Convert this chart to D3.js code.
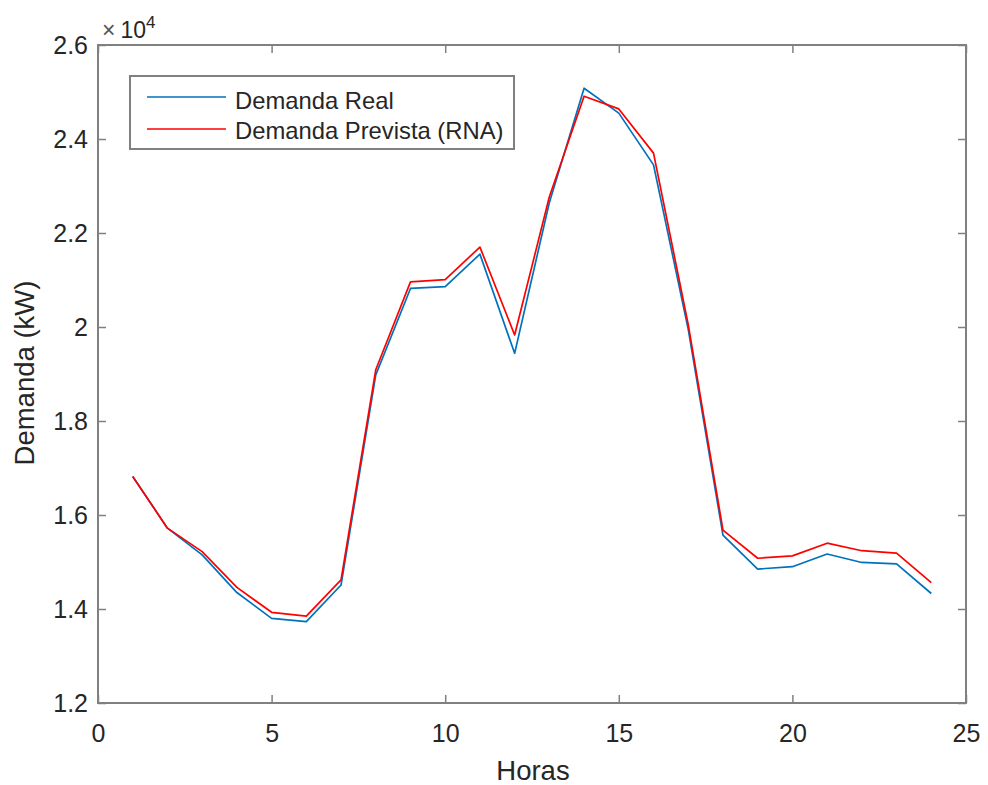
<!DOCTYPE html>
<html>
<head>
<meta charset="utf-8">
<script src="https://cdn.jsdelivr.net/npm/d3@7"></script>
<style>
  html, body { margin: 0; padding: 0; background: #fff; }
  svg { display: block; font-family: "Liberation Sans", Arial, sans-serif; }
</style>
</head>
<body>
<svg id="chart" width="988" height="785"></svg>
<script>
// Hourly load (kW): measured vs. neural-network forecast
const hours = [1,2,3,4,5,6,7,8,9,10,11,12,13,14,15,16,17,18,19,20,21,22,23,24];
const demandaReal = [16820,15720,15150,14350,13800,13730,14510,18980,20820,20860,21550,19440,22650,25080,24550,23450,19950,15570,14850,14900,15170,14990,14960,14330];
const demandaPrevista = [16820,15720,15220,14460,13930,13850,14620,19090,20960,21010,21700,19830,22770,24910,24640,23700,20050,15680,15080,15130,15400,15240,15190,14560];
const xTicks = [0,5,10,15,20,25];
const yTicks = [12000,14000,16000,18000,20000,22000,24000,26000];
const legendLabels = ["Demanda Real", "Demanda Prevista (RNA)"];
const seriesColors = ["#0072BD", "#FF0000"];

const svg = d3.select("#chart");
const m = { left: 98, right: 966, top: 45, bottom: 703 };
const axisColor = "#262626";
const frameColor = "#808080";

const x = d3.scaleLinear().domain([0, 25]).range([m.left, m.right]);
const y = d3.scaleLinear().domain([12000, 26000]).range([m.bottom, m.top]);

// Tick marks point inward on all four sides
const tickLen = 8;
const gx = svg.append("g").attr("transform", `translate(0,${m.bottom})`)
  .call(d3.axisBottom(x).tickValues(xTicks).tickSize(-tickLen).tickPadding(21).tickFormat(d3.format("d")));
const gxTop = svg.append("g").attr("transform", `translate(0,${m.top})`)
  .call(d3.axisTop(x).tickValues(xTicks).tickSize(-tickLen).tickFormat(""));
const gy = svg.append("g").attr("transform", `translate(${m.left},0)`)
  .call(d3.axisLeft(y).tickValues(yTicks).tickSize(-tickLen).tickPadding(10)
    .tickFormat(d => String(+(d / 10000).toFixed(1))));
const gyRight = svg.append("g").attr("transform", `translate(${m.right},0)`)
  .call(d3.axisRight(y).tickValues(yTicks).tickSize(-tickLen).tickFormat(""));

[gx, gxTop, gy, gyRight].forEach(g => {
  g.select(".domain").remove();
  g.selectAll(".tick line").attr("stroke", frameColor).attr("stroke-width", 1.5);
  g.selectAll(".tick text").attr("fill", axisColor).attr("font-size", 25)
    .attr("font-family", "Liberation Sans, Arial, sans-serif");
});

// Axes box
svg.append("rect")
  .attr("x", m.left).attr("y", m.top)
  .attr("width", m.right - m.left).attr("height", m.bottom - m.top)
  .attr("fill", "none").attr("stroke", frameColor).attr("stroke-width", 2);

// Exponent multiplier
const expo = svg.append("text").attr("x", 102).attr("y", 37.5)
  .attr("fill", axisColor).attr("font-size", 23);
expo.append("tspan").attr("fill", "#555").text("\u00D7");
expo.append("tspan").attr("dx", 5).text("10");
expo.append("tspan").attr("dy", -10).attr("font-size", 17).text("4");

// Series lines
const line = d3.line().x((d, i) => x(hours[i])).y(d => y(d));
[demandaReal, demandaPrevista].forEach((s, k) => {
  svg.append("path").datum(s)
    .attr("d", line)
    .attr("fill", "none")
    .attr("stroke", seriesColors[k])
    .attr("stroke-width", 1.7)
    .attr("stroke-linejoin", "round");
});

// Legend
const lg = svg.append("g");
lg.append("rect").attr("x", 130).attr("y", 76).attr("width", 384).attr("height", 73)
  .attr("fill", "#fff").attr("stroke", frameColor).attr("stroke-width", 2);
legendLabels.forEach((lab, k) => {
  const yy = 97 + k * 32;
  lg.append("line").attr("x1", 147).attr("x2", 226).attr("y1", yy).attr("y2", yy)
    .attr("stroke", seriesColors[k]).attr("stroke-width", 1.7);
  lg.append("text").attr("x", 235).attr("y", 108.5 + k * 30.5)
    .attr("fill", axisColor).attr("font-size", 23.8).text(lab);
});

// Axis titles
svg.append("text").attr("x", (m.left + m.right) / 2 + 1).attr("y", 780)
  .attr("text-anchor", "middle").attr("fill", axisColor).attr("font-size", 27.5).text("Horas");
svg.append("text")
  .attr("transform", `translate(33.5,${(m.top + m.bottom) / 2 - 1}) rotate(-90)`)
  .attr("text-anchor", "middle").attr("fill", axisColor).attr("font-size", 27.5).text("Demanda (kW)");
</script>
</body>
</html>
